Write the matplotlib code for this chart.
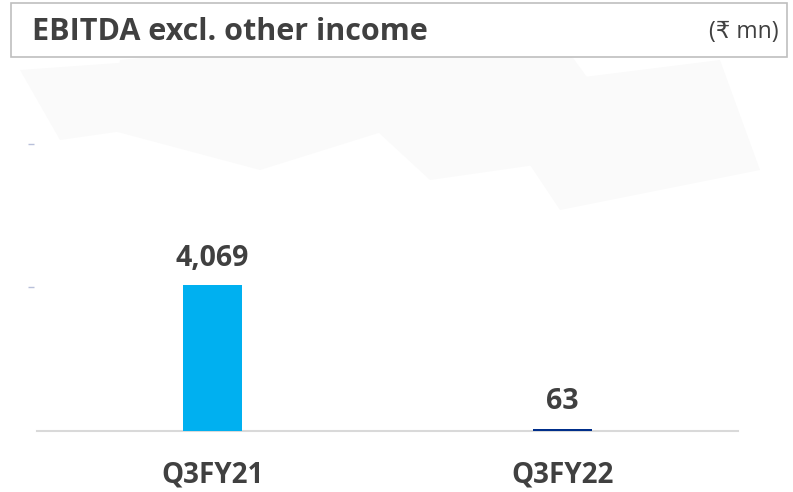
import matplotlib
matplotlib.use("Agg")

import matplotlib.pyplot as plt
from matplotlib.patches import Rectangle, Polygon

# Data
categories = ["Q3FY21", "Q3FY22"]
values = [4069, 63]
value_labels = ["4,069", "63"]
bar_colors = ["#00B0F0", "#002E8A"]
ytick_values = [4000, 8000]

title = "EBITDA excl. other income"
unit = "(\u20b9 mn)"

plt.rcParams["font.family"] = ["Open Sans", "DejaVu Sans"]
text_color = "#404040"

fig = plt.figure(figsize=(7.93, 4.92), dpi=100)
W, H = 793, 492

# faint watermark in the background
bg = fig.add_axes([0, 0, 1, 1], zorder=-5)
bg.set_xlim(0, W)
bg.set_ylim(H, 0)
bg.axis("off")
shapes = [
    [(120, 60), (330, 40), (420, 120), (260, 170), (110, 130)],
    [(300, 60), (560, 40), (640, 150), (430, 180)],
    [(480, 90), (720, 60), (760, 170), (560, 210)],
    [(20, 70), (160, 60), (200, 120), (60, 140)],
]
for pts in shapes:
    bg.add_patch(Polygon(pts, closed=True, facecolor="#fafafa", edgecolor="none"))

# title box
bg.add_patch(Rectangle((11, 3), 776, 54, facecolor="white", edgecolor="#bfbfbf", lw=1.2))
bg.text(32, 31.5, title, fontsize=22, fontweight="bold", color=text_color,
        va="center", ha="left")
bg.text(779, 32, unit, fontsize=16.5, color=text_color, va="center", ha="right")

# chart area
ymax = 9000
px_per_unit = 146 / 4069
ax_h = ymax * px_per_unit
ax = fig.add_axes([37 / W, 61 / H, 701 / W, ax_h / H])
ax.patch.set_alpha(0)

x = range(len(categories))
ax.bar(x, values, width=0.168, color=bar_colors, zorder=3)
ax.set_xlim(-0.5, 1.5)
ax.set_ylim(0, ymax)

for xi, v, lab in zip(x, values, value_labels):
    ax.annotate(lab, (xi, v), xytext=(0, 9), textcoords="offset points",
                ha="center", va="bottom", fontsize=20.5, fontweight="bold",
                color=text_color)

for s in ["top", "right", "left"]:
    ax.spines[s].set_visible(False)
ax.spines["bottom"].set_color("#d9d9d9")
ax.spines["bottom"].set_linewidth(1.5)
ax.spines["left"].set_position(("outward", 2.5))

ax.set_xticks(list(x))
ax.set_xticklabels(categories, fontsize=20, fontweight="bold", color=text_color)
ax.tick_params(axis="x", length=0, pad=21)
ax.set_yticks(ytick_values)
ax.set_yticklabels([])
ax.tick_params(axis="y", length=4.5, width=1, color="#b8c0da", direction="out")

fig.savefig("out.png", dpi=100)
